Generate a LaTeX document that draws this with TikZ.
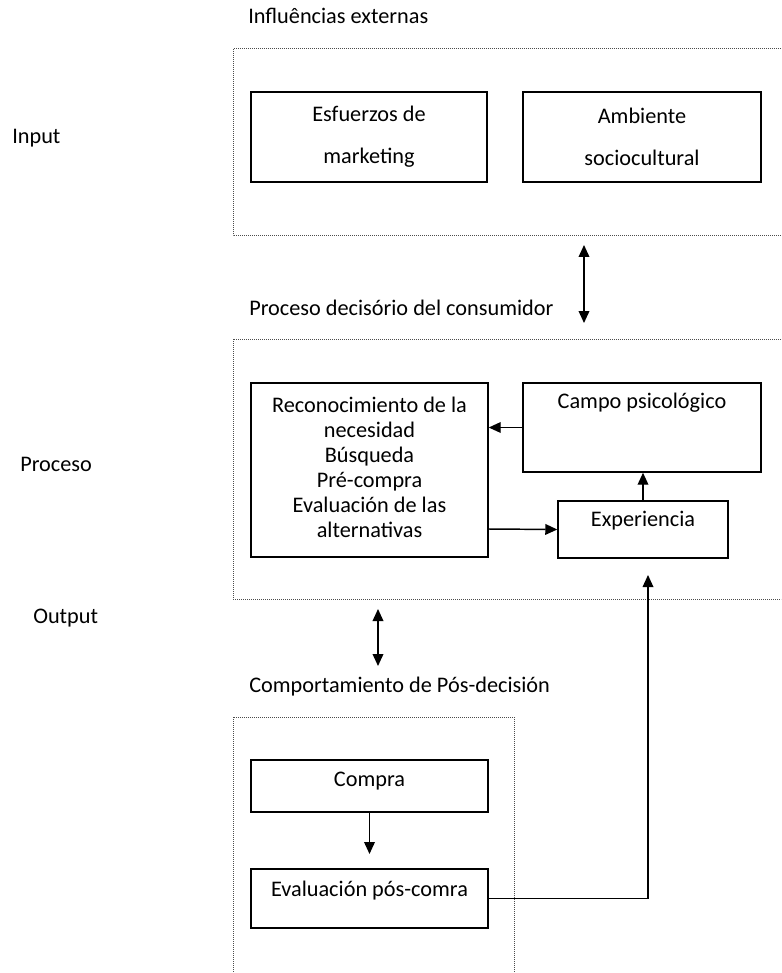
\documentclass[tikz,border=0pt]{standalone}
\usepackage{fontspec}
\setmainfont{Carlito}
\usetikzlibrary{arrows.meta,fit}
\begin{document}
\begin{tikzpicture}[x=0.75pt,y=-0.75pt,
  txt/.style={inner sep=0pt, font=\fontsize{16.7}{18.75}\selectfont, text height=0.7em, text depth=0.2em},
  wide/.style={inner sep=0pt, align=center, font=\fontsize{16.7}{31.5}\selectfont},
  stack/.style={inner sep=0pt, align=center, font=\fontsize{16.7}{18.75}\selectfont},
  head/.style={txt, anchor=west},
  box/.style={draw, line width=1.1pt, inner sep=0pt},
  frame/.style={draw=black!70, line width=0.75pt, dash pattern=on 0.75pt off 0.75pt},
  arr/.style={-{Triangle[length=9pt,width=8pt]}, line width=1.1pt},
  darr/.style={{Triangle[length=9pt,width=8pt]}-{Triangle[length=9pt,width=8pt]}, line width=1.1pt}
]
\clip (0,0) rectangle (781,973);
\fill[white] (0,0) rectangle (781,973);

% dotted group frames
\draw[frame] (233,49) rectangle (800,236);
\draw[frame] (233,339) rectangle (800,599);
\draw[frame] (233,717) rectangle (514,1000);

% group headings
\node[head] (hin) at (248,20) {Influências externas};
\node[head] (hpr) at (249,312) {Proceso decisório del consumidor};
\node[head] (hout) at (249,689) {Comportamiento de Pós-decisión};

% side labels
\node[head] (lin) at (12,140) {Input};
\node[head] (lpr) at (20,468) {Proceso};
\node[head] (lout) at (33,620) {Output};

% external influences
\node[box, fit={(251,92) (487,182)}] (esf) {};
\node[wide] at (369,137) {Esfuerzos de\\marketing};
\node[box, fit={(523,92) (761,182)}] (amb) {};
\node[wide] at (642,137) {Ambiente\\sociocultural};

% decision process
\node[box, fit={(251,383) (488,557)}] (rec) {};
\node[stack] at (369.5,467) {Reconocimiento de la\\necesidad\\Búsqueda\\Pré-compra\\Evaluación de las\\alternativas};
\node[box, fit={(523,383) (761,472)}] (campo) {};
\node[txt] at (642,405) {Campo psicológico};
\node[box, fit={(558,501) (728,558)}] (exp) {};
\node[txt] at (643,523) {Experiencia};

% post-decision behaviour
\node[box, fit={(251,760) (488,812)}] (compra) {};
\node[txt] at (369.5,783) {Compra};
\node[box, fit={(251,869) (488,928)}] (eval) {};
\node[txt] at (369.5,893) {Evaluación pós-comra};

% connectors
\coordinate (a1) at (584,245);
\coordinate (a2) at (584,323);
\draw[darr] (a1) -- (a2);
\coordinate (b1) at (378,609);
\coordinate (b2) at (378,666);
\draw[darr] (b1) -- (b2);

\draw[arr] (campo.west) -- (rec.east |- campo.west);
\coordinate (rx) at (488,529);
\draw[arr] (rx) -- (exp.west);
\draw[arr] (exp.north) -- (exp.north |- campo.south);

\coordinate (ctip) at (369.5,854);
\draw[arr] (compra.south) -- (ctip);

\coordinate (fb) at (648,575);
\draw[arr, line width=0.9pt] (eval.east) -| (fb);
\end{tikzpicture}
\end{document}
